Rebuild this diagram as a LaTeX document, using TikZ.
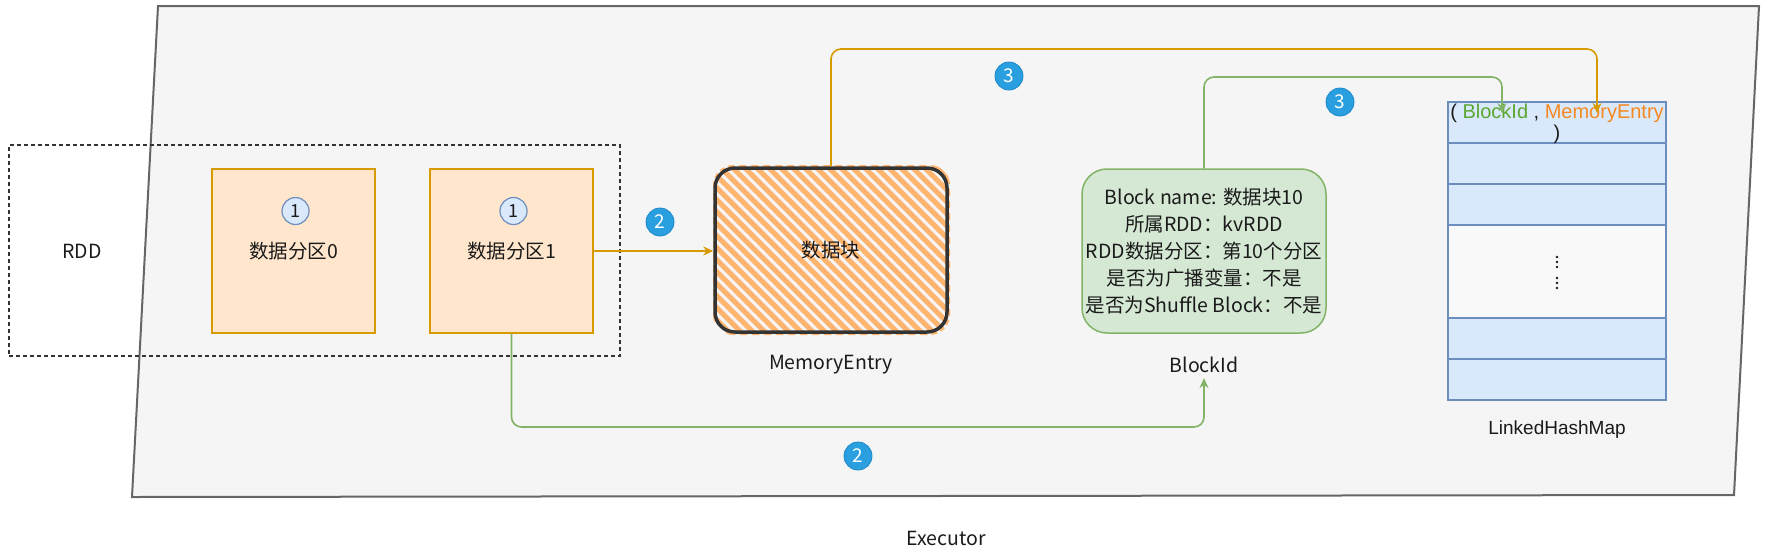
\documentclass[tikz,border=0pt]{standalone}
\usepackage{fontspec}
\setmainfont{Noto Sans CJK SC}
\newfontfamily\lat{Liberation Sans}
\usepackage{tikz}
\usetikzlibrary{arrows.meta}
\definecolor{ocol}{HTML}{D79B00}
\definecolor{pfill}{HTML}{FFE6CC}
\definecolor{bcol}{HTML}{6C8EBF}
\definecolor{bfill}{HTML}{DAE8FC}
\definecolor{gcol}{HTML}{82B366}
\definecolor{gfill}{HTML}{D5E8D4}
\definecolor{efill}{HTML}{F5F5F5}
\definecolor{eline}{HTML}{666666}
\definecolor{tcol}{HTML}{1A1A1A}
\definecolor{hcol}{HTML}{FFB570}
\definecolor{mline}{HTML}{333333}
\definecolor{badgecol}{HTML}{2A9FE0}
\definecolor{badgeline}{HTML}{1E88C8}
\definecolor{bkcol}{HTML}{5BA830}
\definecolor{mecol}{HTML}{F5891F}

\begin{document}
\begin{tikzpicture}[x = 1pt, y = -1pt,
    txt/.style = {font = \fontsize{19.5}{23}\selectfont, text = tcol, inner sep = 0pt},
    part/.style = {draw = ocol, fill = pfill, line width = 1.5pt, minimum width = 163pt, minimum height = 164pt, txt},
    num/.style = {circle, draw = bcol, fill = bfill, line width = 1.2pt, minimum size = 27pt, inner sep = 0pt, text = tcol, font = \fontsize{18}{18}\selectfont},
    badge/.style = {circle, fill = badgecol, draw = badgeline, line width = .8pt, minimum size = 28pt, inner sep = 0pt, text = white, font = \fontsize{19}{19}\selectfont},
    cell/.style = {draw = bcol, fill = bfill, line width = 1.5pt, minimum width = 218pt, inner sep = 0pt},
    hatch/.style = {draw = hcol, line width = 5pt},
    a/.style = {-{Stealth[length = 10pt, width = 9pt]}, line width = 1.6pt, rounded corners = 10pt}]
      \useasboundingbox (0, 0) rectangle (1771, 555);

      \coordinate (e1) at (158, 6);
      \coordinate (e2) at (1759, 6);
      \coordinate (e3) at (1734, 495);
      \coordinate (e4) at (132, 497);
      \draw [fill = efill, draw = eline, line width = 2pt] (e1) -- (e2) -- (e3) -- (e4) -- cycle;
      \node [txt] (ex) at (946, 538) {Executor};

      \node [draw = mline, line width = 1.5pt, dash pattern = on 4pt off 3pt, minimum width = 611pt, minimum height = 211pt] (rdd) at (314.5, 250.5) {};
      \node [txt] (rddl) at (82, 251) {RDD};

      \node [part] (p0) at (293.5, 251) {数据分区0};
      \node [part] (p1) at (511.5, 251) {数据分区1};
      \node [num] (n0) at (295.5, 211) {1};
      \node [num] (n1) at (513.5, 211) {1};

      \begin{scope}
        \clip [rounded corners = 20pt] (713, 165) rectangle (950, 335);
        \foreach \s in {531, 543, ..., 963} {
          \draw [hatch] (\s, 158) -- ++(184, 184);
        }
      \end{scope}
      \node [txt, draw = mline, line width = 3.5pt, rounded corners = 20pt, minimum width = 232pt, minimum height = 164pt] (mem) at (831, 250) {数据块};
      \node [txt] (meml) at (831, 365) {MemoryEntry};

      \node [draw = gcol, fill = gfill, line width = 1.5pt, rounded corners = 25pt, minimum width = 244pt, minimum height = 164pt, align = center, font = \fontsize{19.5}{27}\selectfont, text = tcol, inner sep = 0pt] (bid) at (1204, 251) {Block name: 数据块10\\所属RDD：kvRDD\\RDD数据分区：第10个分区\\是否为广播变量：不是\\是否为Shuffle Block：不是};
      \node [txt] (bidl) at (1204, 365) {BlockId};

      \foreach \n/\y/\h in {t1/122.5/41, t2/163.5/41, t3/204.5/41, t5/338.5/41, t6/379.5/41} {
        \node [cell, minimum height = \h pt] (\n) at (1557, \y) {};
      }
      \node [cell, fill = efill!60!white, minimum height = 93pt] (t4) at (1557, 271.5) {};
      \node [font = \lat\fontsize{20}{21}\selectfont, align = center, inner sep = 0pt, text = tcol] (hd) at (1557, 124) {( \textcolor{bkcol}{BlockId} , \textcolor{mecol}{MemoryEntry}\\)};
      \foreach \y in {257, 262, 267, 278, 283, 288} {
        \fill [tcol] (1557, \y) circle (1.4pt);
      }
      \node [txt, font = \lat\fontsize{19}{23}\selectfont] (lhm) at (1557, 430) {LinkedHashMap};

      \coordinate (bk) at (1502, 113);
      \coordinate (mk) at (1597, 113);
      \coordinate (ot) at (1597, 49);
      \coordinate (gt) at (1502, 77);
      \coordinate (gb) at (858, 427);

      \draw [a, ocol] (p1.east) -- (p1.east -| mem.west);
      \draw [a, ocol] (mem.north) |- (ot) -- (mk);
      \draw [a, gcol] (bid.north) |- (gt) -- (bk);
      \draw [a, gcol] (p1.south) |- (gb) -| ([yshift = -5pt] bidl.south);

      \node [badge] (b2a) at (660, 222) {2};
      \node [badge] (b2b) at (858, 456) {2};
      \node [badge] (b3a) at (1009, 76) {3};
      \node [badge] (b3b) at (1340, 102) {3};
    \end{tikzpicture}
\end{document}
